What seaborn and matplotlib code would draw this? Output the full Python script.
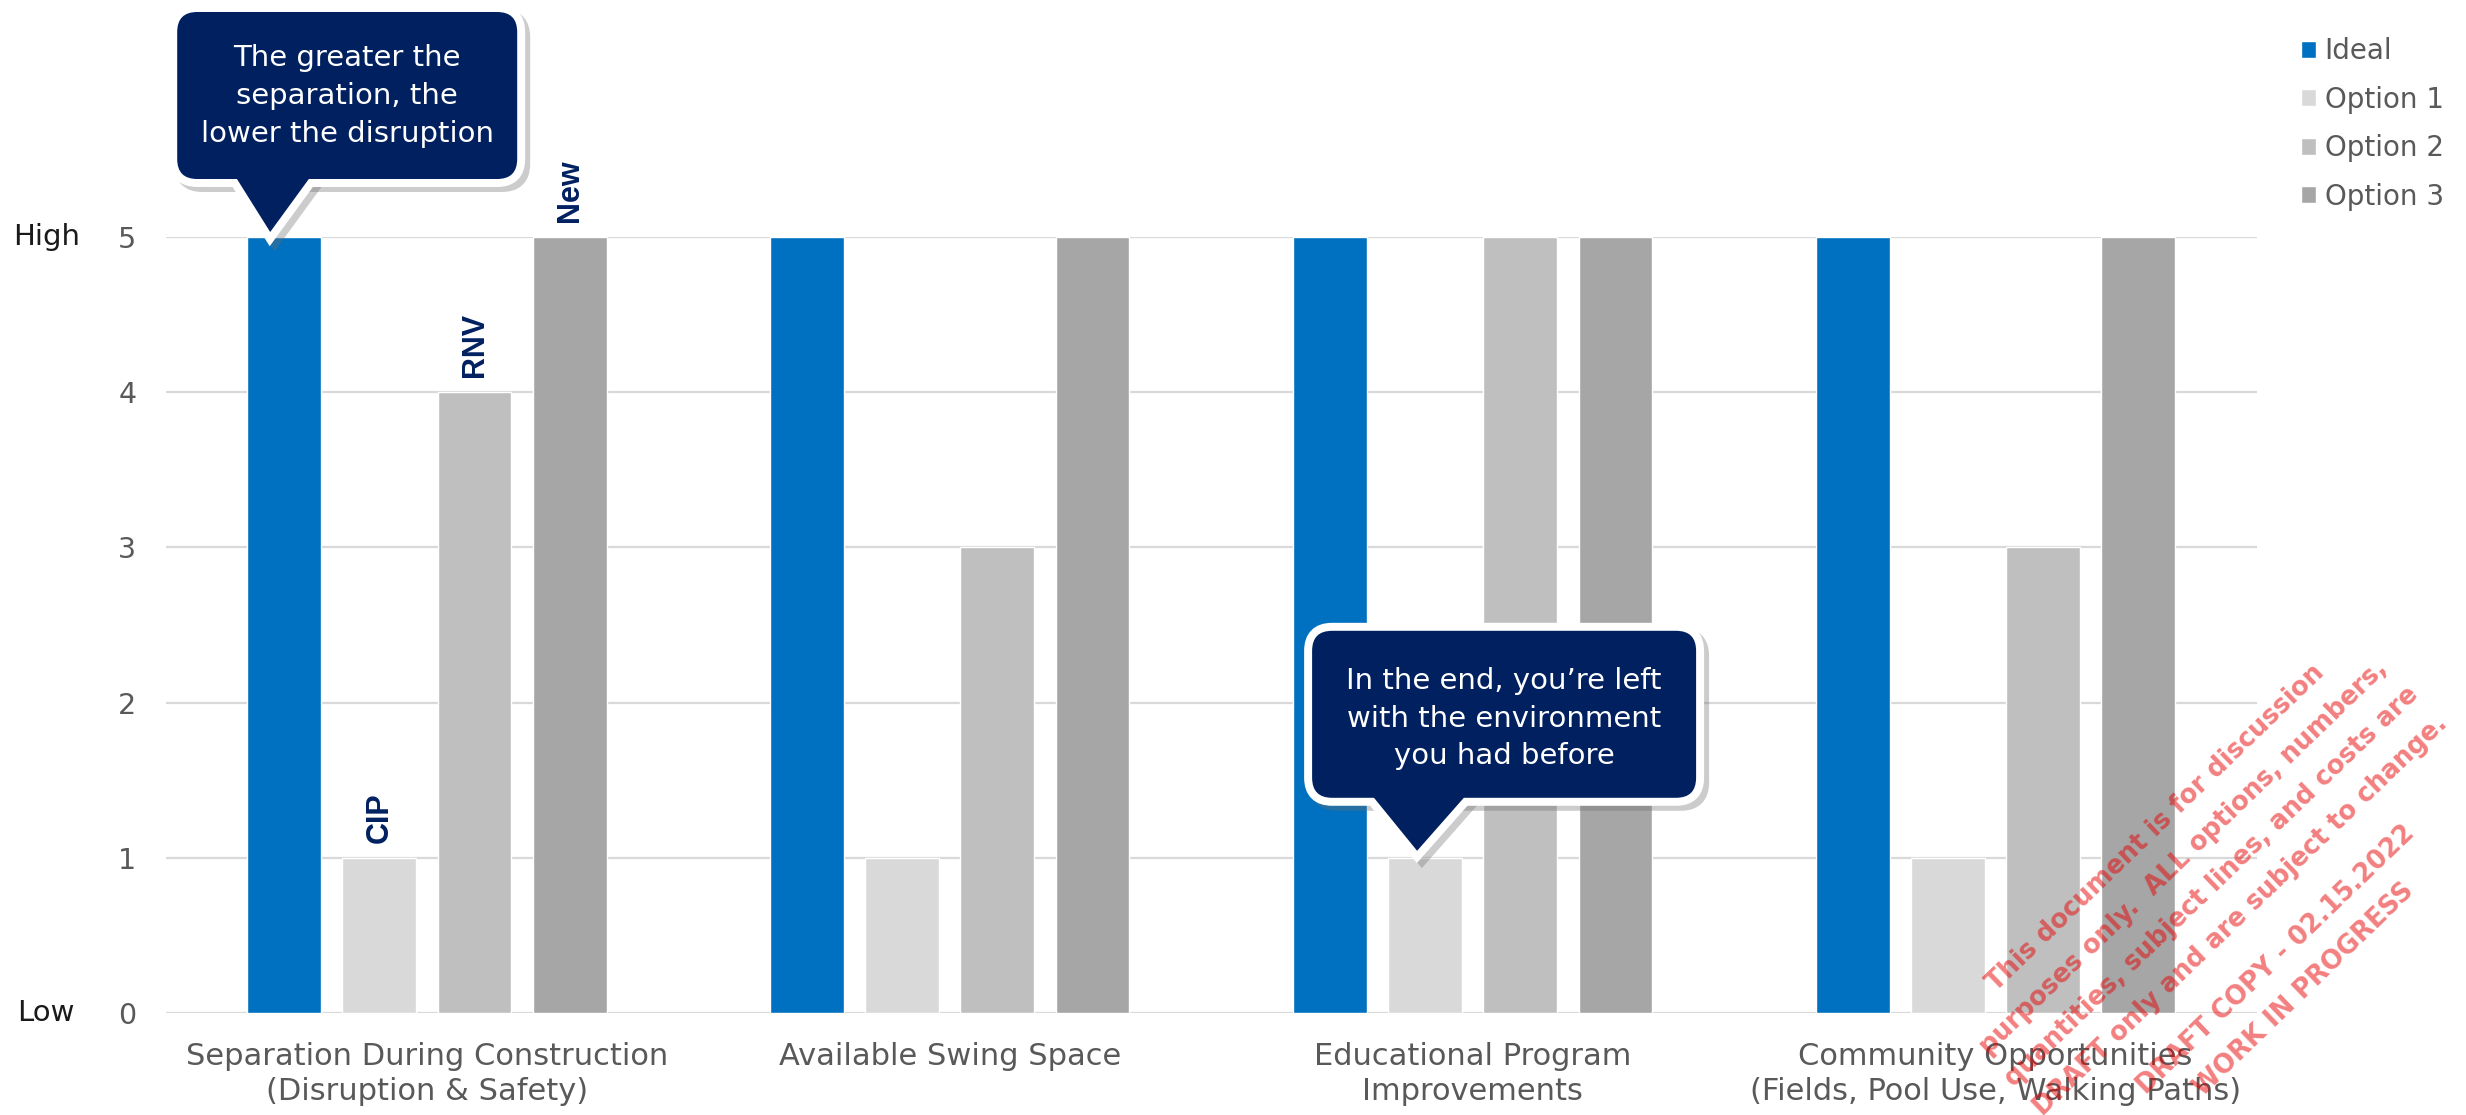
import numpy as np
import pandas as pd
import matplotlib
matplotlib.use("Agg")
import matplotlib.pyplot as plt
import seaborn as sns
from matplotlib.patches import FancyBboxPatch, Polygon
from matplotlib.transforms import IdentityTransform

# ---------------- data ----------------
categories = [
    "Separation During Construction\n(Disruption & Safety)",
    "Available Swing Space",
    "Educational Program\nImprovements",
    "Community Opportunities\n(Fields, Pool Use, Walking Paths)",
]
series_names = ["Ideal", "Option 1", "Option 2", "Option 3"]
ideal = [5, 5, 5, 5]
option1 = [1, 1, 1, 1]
option2 = [4, 3, 5, 3]
option3 = [5, 5, 5, 5]
colors = ["#0070C0", "#D9D9D9", "#BFBFBF", "#A6A6A6"]
y_ticks = [0, 1, 2, 3, 4, 5]
option_tags = ["CIP", "RNV", "New"]
callout1_text = "The greater the\nseparation, the\nlower the disruption"
callout2_text = "In the end, you\u2019re left\nwith the environment\nyou had before"
watermark1 = ("This document is for discussion\npurposes only.  ALL options, numbers,\n"
              "quantities, subject lines, and costs are\nDRAFT only and are subject to change.")
watermark2 = "DRAFT COPY - 02.15.2022\nWORK IN PROGRESS"

values = [ideal, option1, option2, option3]
rows = []
for s, vals in zip(series_names, values):
    for c, v in zip(categories, vals):
        rows.append({"category": c, "series": s, "value": v})
df = pd.DataFrame(rows)

# ---------------- style ----------------
sns.set_theme(style="white")
plt.rcParams["font.family"] = ["DejaVu Sans"]

W, H = 2466, 1115
fig = plt.figure(figsize=(W / 100, H / 100), dpi=100)
ax_l, ax_r, ax_t, ax_b = 165.5, 2257, 237, 1013
ax = fig.add_axes([ax_l / W, (H - ax_b) / H, (ax_r - ax_l) / W, (ax_b - ax_t) / H])

sns.barplot(data=df, x="category", y="value", hue="series", palette=colors,
            hue_order=series_names, order=categories, width=0.728, gap=0.224,
            saturation=1, ax=ax, legend=True, errorbar=None)

ax.set_xlim(-0.5, 3.5)
ax.set_ylim(0, 5)
ax.set_yticks(y_ticks)
ax.set_xlabel("")
ax.set_ylabel("")
for sp in ax.spines.values():
    sp.set_visible(False)
ax.set_axisbelow(True)
ax.yaxis.grid(True, color="#D9D9D9", lw=1.6)
ax.xaxis.grid(False)
ax.tick_params(axis="y", length=0, pad=21, labelsize=20.5, labelcolor="#595959")
ax.tick_params(axis="x", length=0, pad=21, labelsize=22, labelcolor="#595959")
for lab in ax.get_xticklabels():
    lab.set_linespacing(1.27)

# High / Low
ytr = ax.get_yaxis_transform()
ax.text(-0.057, 5, "High", transform=ytr, ha="center", va="center", fontsize=21, color="#1A1A1A")
ax.text(-0.057, 0, "Low", transform=ytr, ha="center", va="center", fontsize=21, color="#1A1A1A")

# legend
handles, labels = ax.get_legend_handles_labels()
ax.get_legend().remove()
fig.legend(handles, labels, loc="upper left", bbox_to_anchor=(2301 / W, (H - 37) / H),
           frameon=False, fontsize=20, handlelength=0.55, handleheight=0.55,
           handletextpad=0.3, labelspacing=0.74, borderpad=0, borderaxespad=0,
           labelcolor="#595959")

# option tags above first group
for hi, tag in enumerate(option_tags, start=1):
    bar = ax.containers[hi][0]
    ax.annotate(tag, (bar.get_x() + bar.get_width() / 2, bar.get_height()),
                xytext=(0, 11), textcoords="offset points", rotation=90,
                ha="center", va="bottom", fontsize=22, fontweight="bold",
                color="#002060", family=["Liberation Sans", "DejaVu Sans"],
                annotation_clip=False)

# ---------------- callouts ----------------
NAVY = "#002060"
idt = IdentityTransform()


def draw_callout(tip, box, base, text_off, text):
    tx, ty = tip
    l, r, t, b = box
    x0, x1 = tx + l, tx + r
    y0, y1 = ty + b, ty + t
    layers = [((5, -5), "#6e6e6e", 0.35, 11.5, 20),
              ((0, 0), "white", 1.0, 11.5, 21),
              ((0, 0), NAVY, 1.0, 0, 22)]
    for (dx, dy), col, al, lw, z in layers:
        bx = FancyBboxPatch((x0 + dx, y0 + dy), x1 - x0, y1 - y0,
                            boxstyle="round,pad=0,rounding_size=20", transform=idt,
                            fc=col, ec=col, lw=lw, alpha=al, zorder=z, joinstyle="round")
        tri = Polygon([(tx + base[0] + dx, y0 + 6 + dy), (tx + base[1] + dx, y0 + 6 + dy),
                       (tx + dx, ty + dy)], closed=True, transform=idt,
                      fc=col, ec=col, lw=lw, alpha=al, zorder=z, joinstyle="miter")
        fig.add_artist(bx)
        fig.add_artist(tri)
    fig.text(tx + text_off[0], ty + text_off[1], text, transform=idt, ha="center",
             va="center", multialignment="center", color="white", fontsize=21,
             linespacing=1.44, zorder=23)


b0 = ax.containers[0][0]
tip1 = ax.transData.transform((b0.get_x() + b0.get_width() / 2, b0.get_height()))
draw_callout((tip1[0] - 14, tip1[1] + 5), (-93, 247, 220, 53), (-37, 43), (77, 136), callout1_text)

b1 = ax.containers[1][2]
tip2 = ax.transData.transform((b1.get_x() + b1.get_width() / 2, b1.get_height()))
draw_callout((tip2[0] - 8, tip2[1] + 7), (-105, 279, 220, 53), (-48, 52), (87, 132), callout2_text)

# ---------------- watermark ----------------
for (cx, cy), txt in [((2198, 872), watermark1), ((2290, 975), watermark2)]:
    fig.text(cx, H - cy, txt, transform=idt, rotation=44, rotation_mode="anchor",
             ha="center", va="center", multialignment="center", fontsize=18.5,
             fontweight="bold", color="#E80000", alpha=0.5, linespacing=1.75, zorder=30)

fig.savefig("out.png", dpi=100)
